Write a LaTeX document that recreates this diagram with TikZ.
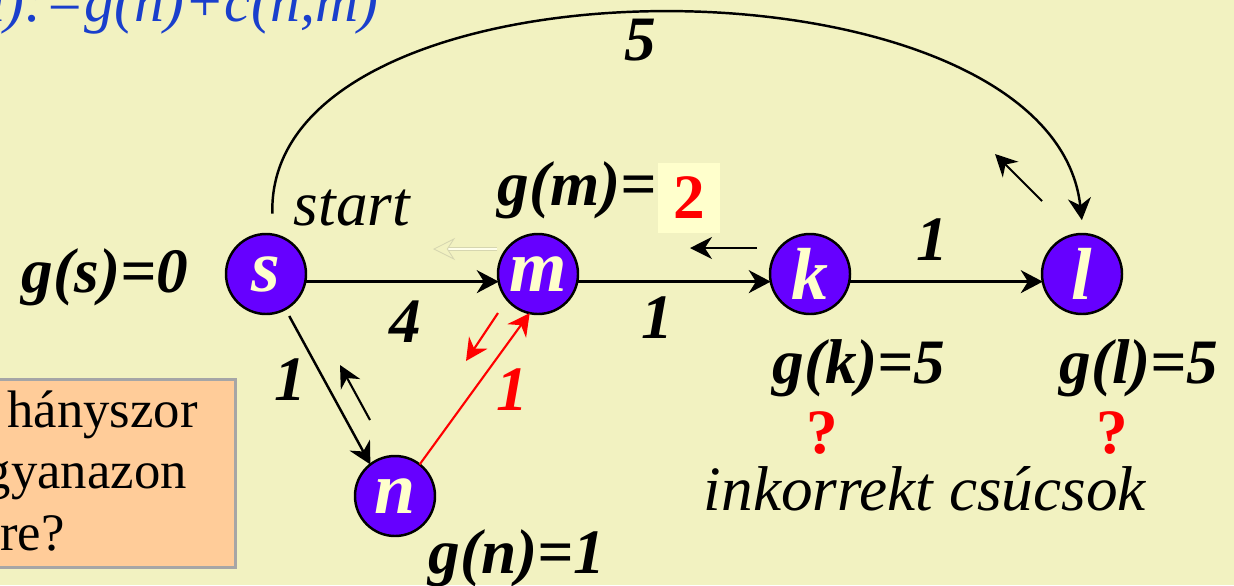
\documentclass[tikz,border=0pt]{standalone}
\usepackage{fontspec}
\setmainfont{Liberation Serif}
\usepackage{tikz}
\usetikzlibrary{arrows.meta,positioning,calc}
\usepackage{xcolor}
\definecolor{GrBack}{HTML}{F2F2C1}
\definecolor{GrNode}{HTML}{6600FF}
\definecolor{GrText}{HTML}{FFFFCC}
\definecolor{GrBlue}{HTML}{1A3FCC}
\definecolor{GrRed}{HTML}{FF0000}
\definecolor{GrPeach}{HTML}{FFCC99}
\definecolor{GrGray}{HTML}{A6A6A6}
\definecolor{GrGhost}{HTML}{D6D6B0}

\begin{document}
\begin{tikzpicture}[x=0.2mm, y=-0.2mm, node distance=38.4mm,
    font=\fontsize{36}{40}\selectfont\bfseries\itshape,
    vertex/.style={circle,draw=black,line width=1.4pt,fill=GrNode,text=GrText,
      minimum size=16mm,inner sep=0pt,outer sep=0pt,
      font=\fontsize{42}{46}\selectfont\bfseries\itshape},
    wlab/.style={inner sep=0pt},
    link/.style={line width=1.4pt,-{Stealth[length=4.4mm,width=4.6mm]}},
    hint/.style={line width=1.2pt,-{Stealth[length=4.4mm,width=4.4mm]}},
    plain/.style={font=\fontsize{36}{40}\selectfont\itshape}]
  \useasboundingbox (0,0) rectangle (1234,585);
  \clip (0,0) rectangle (1234,585);
  \fill[GrBack] (0,0) rectangle (1234,585);

  % update rule, cut by the page edge
  \node[anchor=base east,text=GrBlue,font=\fontsize{34}{38}\selectfont\itshape] (upd) at (385,21) {g(m):=g(n)+c(n,m)};

  % question box
  \node[draw=GrGray,fill=GrPeach,line width=1.5pt,anchor=north east,minimum width=52mm,minimum height=37.6mm] (box) at (237,378) {};
  \node[anchor=base east,font=\fontsize{30}{34}\selectfont] (q1) at (204,427) {e hányszor};
  \node[anchor=base east,font=\fontsize{30}{34}\selectfont] (q2) at (193,488) {ugyanazon};
  \node[anchor=base east,font=\fontsize{30}{34}\selectfont] (q3) at (71,550) {ere?};

  % vertices
  \node[vertex] (s) at (266,274) {s};
  \node[vertex,right=of s] (m) {m};
  \node[vertex,right=of m] (k) {k};
  \node[vertex,right=of k] (l) {l};
  \node[vertex] (n) at (395,496) {n};

  % edges
  \draw[link,shorten <=4.2mm,shorten >=2.8mm] (s.80) .. controls +(-8,-290) and +(-32,-289) .. (l.88);
  \draw[link] (s.-11) -- (m.191);
  \draw[link] (m.-11) -- (k.191);
  \draw[link] (k.-11) -- (l.191);
  \draw[link,shorten <=1.6mm] (s.-61) -- (n.128);
  \draw[link,GrRed,line width=1.2pt] (n.52) -- (m.258);

  % back pointers
  \coordinate (bs1) at (370,420); \coordinate (bs2) at (340,365);
  \coordinate (bm1) at (498,313); \coordinate (bm2) at (466,361);
  \coordinate (bk1) at (757,248); \coordinate (bk2) at (690,248);
  \coordinate (bl1) at (1042,201); \coordinate (bl2) at (995,154);
  \coordinate (bg1) at (497,249); \coordinate (bg2) at (433,249);
  \draw[hint] (bs1) -- (bs2);
  \draw[hint,GrRed] (bm1) -- (bm2);
  \draw[hint] (bk1) -- (bk2);
  \draw[hint] (bl1) -- (bl2);
  \draw[GrGhost,line width=0.5pt,double=white!60!GrText,double distance=1.2pt,-{Stealth[open,length=4.4mm,width=4.4mm]}] (bg1) -- (bg2);

  % weights
  \node[wlab] (w5) at (640,40) {5};
  \node[wlab] (wkl) at (932,240) {1};
  \node[wlab] (wsm) at (405,322) {4};
  \node[wlab] (wmk) at (657,318) {1};
  \node[wlab] (wsn) at (290,380) {1};
  \node[wlab,text=GrRed] (wnm) at (512,390) {1};

  % g values
  \node[anchor=base] (gs) at (105,292) {g(s)=0};
  \node[anchor=base,plain] (start) at (352,225) {start};
  \node[anchor=base] (gm) at (577,205) {g(m)=};
  \node[fill=GrText,minimum width=12.4mm,minimum height=14mm,text=GrRed,
    font=\fontsize{36}{40}\selectfont\bfseries] (gmv) at (689,198) {2};
  \node[anchor=base] (gk) at (859,383) {g(k)=5};
  \node[anchor=base] (gl) at (1139,383) {g(l)=5};
  \node[anchor=base] (gn) at (517,573) {g(n)=1};
  \node[wlab,text=GrRed,font=\fontsize{36}{40}\selectfont\bfseries] (qk) at (822,433) {?};
  \node[wlab,text=GrRed,font=\fontsize{36}{40}\selectfont\bfseries] (ql) at (1112,433) {?};
  \node[anchor=base,plain] (inc) at (925,510) {inkorrekt csúcsok};
\end{tikzpicture}
\end{document}
